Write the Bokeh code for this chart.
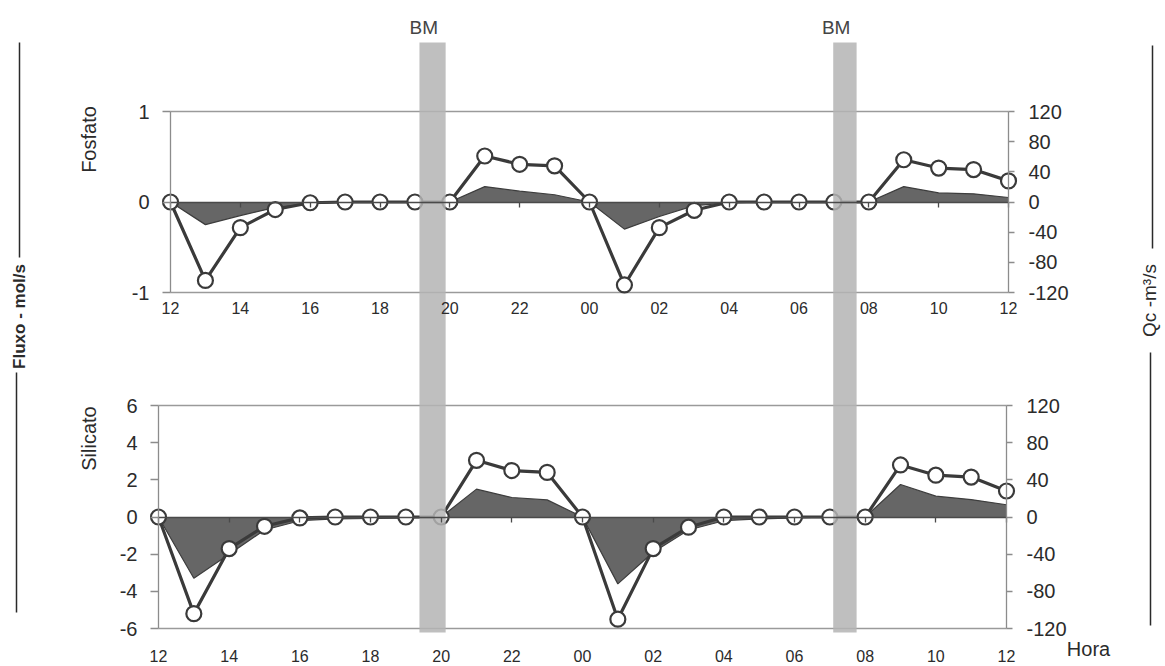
import math
from bokeh.plotting import figure
from bokeh.models import Range1d, LinearAxis, FixedTicker
from bokeh.core.properties import value
from bokeh.embed import file_html
from bokeh.resources import INLINE

W, H = 1165, 666
FONT = "Liberation Sans"
INK = "#2b2b2b"

# ---- data -------------------------------------------------------------
hours = ["12", "13", "14", "15", "16", "17", "18", "19", "20", "21", "22", "23",
         "00", "01", "02", "03", "04", "05", "06", "07", "08", "09", "10", "11", "12"]
idx = list(range(len(hours)))

# Qc (m3/s), same series in both panels
qc = [0, -104, -34, -10, -1, 0, 0, 0, 0, 61, 50, 48,
      0, -110, -34, -11, 0, 0, 0, 0, 0, 56, 45, 43, 28]

# flux (mol/s)
fosfato = [0, -0.25, -0.15, -0.06, -0.02, 0, 0, 0, 0, 0.17, 0.12, 0.08,
           0, -0.30, -0.16, -0.04, -0.01, 0, 0, 0, 0, 0.17, 0.10, 0.09, 0.05]
silicato = [0, -3.3, -2.0, -0.7, -0.2, -0.1, -0.08, -0.05, 0, 1.5, 1.05, 0.92,
            0, -3.6, -1.9, -0.7, -0.2, -0.1, -0.05, 0, 0, 1.75, 1.12, 0.94, 0.66]

fos_ticks = [-1, 0, 1]
sil_ticks = [-6, -4, -2, 0, 2, 4, 6]
qc_ticks = [-120, -80, -40, 0, 40, 80, 120]
x_ticks = list(range(0, 25, 2))

# low-water (BM) periods, in hour index of the upper panel
bm_start = [7.13, 18.98]
bm_end = [7.88, 19.65]


# ---- helpers ------------------------------------------------------------
def xr(v_a, px_a, v_b, px_b):
    s = (px_b - px_a) / (v_b - v_a)
    return Range1d(start=v_a - px_a / s, end=v_a + (W - px_a) / s)


def yr(v_a, px_a, v_b, px_b):
    s = (px_b - px_a) / (v_b - v_a)
    return Range1d(start=v_a + (H - px_a) / s, end=v_a - px_a / s)


p = figure(width=W, height=H, x_range=Range1d(0, W), y_range=Range1d(H, 0),
           x_axis_type=None, y_axis_type=None, toolbar_location=None,
           output_backend="svg", min_border=0, outline_line_color=None,
           background_fill_color="white", border_fill_color="white")

p.extra_x_ranges = {"top": xr(0, 170, 24, 1008), "bot": xr(0, 158, 24, 1006)}
p.extra_y_ranges = {
    "fos": yr(1, 111, -1, 292),
    "qc1": yr(120, 111, -120, 292),
    "sil": yr(6, 405, -6, 628),
    "qc2": yr(120, 405, -120, 628),
}


def style_axis(ax, size, tick_out, standoff, line_color="#8c8c8c"):
    ax.axis_line_color = line_color
    ax.axis_line_width = 1.3
    ax.major_tick_line_color = line_color
    ax.major_tick_line_width = 1.3
    ax.major_tick_out = tick_out
    ax.major_tick_in = 0
    ax.minor_tick_out = 0
    ax.minor_tick_in = 0
    ax.major_label_standoff = standoff
    ax.major_label_text_font = FONT
    ax.major_label_text_font_size = size
    ax.major_label_text_color = INK


def plain(ticks):
    # tick text with an ordinary hyphen for negatives
    return {t: str(t) for t in ticks}


def panel(xname, fname, qname, flux, ticks, x_standoff):
    lo, hi = min(ticks), max(ticks)
    kw = dict(x_range_name=xname, y_range_name=fname)
    # plot-area top and bottom border
    p.segment(x0=[0, 0], x1=[24, 24], y0=[lo, hi], y1=[lo, hi],
              line_color="#9a9a9a", line_width=1.4, **kw)
    # flux area
    p.varea(x=idx, y1=0, y2=flux, fill_color="#666666", **kw)
    p.line(idx, flux, line_color="#3d3d3d", line_width=1.2, **kw)

    left = LinearAxis(x_range_name=xname, y_range_name=fname, fixed_location=0,
                      bounds=(lo, hi), ticker=FixedTicker(ticks=ticks),
                      major_label_overrides=plain(ticks))
    style_axis(left, "20px", 8, 13)
    p.add_layout(left, "left")

    bottom = LinearAxis(x_range_name=xname, y_range_name=fname, fixed_location=0,
                        bounds=(0, 24), ticker=FixedTicker(ticks=x_ticks),
                        major_label_overrides={i: hours[i] for i in x_ticks})
    style_axis(bottom, "16px", 5, x_standoff, line_color="#4a4a4a")
    p.add_layout(bottom, "below")

    right = LinearAxis(x_range_name=xname, y_range_name=qname, fixed_location=24,
                       bounds=(-120, 120), ticker=FixedTicker(ticks=qc_ticks),
                       major_label_overrides=plain(qc_ticks))
    style_axis(right, "20px", 6, 14)
    p.add_layout(right, "right")

    # Qc line with open circles
    qkw = dict(x_range_name=xname, y_range_name=qname)
    p.line(idx, qc, line_color="#3a3a3a", line_width=3.2, **qkw)
    p.scatter(idx, qc, size=15, fill_color="white", line_color="#3a3a3a",
              line_width=2.2, **qkw)


panel("top", "fos", "qc1", fosfato, fos_ticks, 95)
panel("bot", "sil", "qc2", silicato, sil_ticks, 128)

# BM bands across both panels (vertical extent in page pixels)
p.quad(left=bm_start, right=bm_end, top=42, bottom=632, x_range_name="top",
       fill_color="#b4b4b4", fill_alpha=0.85, line_color=None)
p.text(x=[(a + b) / 2 - 0.25 for a, b in zip(bm_start, bm_end)], y=27,
       text=["BM", "BM"], x_range_name="top", text_font=value(FONT),
       text_font_size="19px", text_color="#444444", text_align="center",
       text_baseline="middle")

# panel titles
txt = dict(text_font=value(FONT), text_color=INK, text_align="center",
           text_baseline="middle")
p.text(x=[88, 88], y=[139, 438], text=["Fosfato", "Silicato"], angle=math.pi / 2,
       text_font_size="20px", **txt)
p.text(x=[1088], y=[648], text=["Hora"], text_font_size="20px", **txt)

# outer axis titles with rules
p.text(x=[19], y=[316], text=["Fluxo - mol/s"], angle=math.pi / 2,
       text_font_size="17px", text_font_style="bold", **txt)
p.text(x=[1149], y=[300], text=["Qc -m³/s"], angle=math.pi / 2,
       text_font_size="19px", **txt)
p.segment(x0=[19, 16, 1152, 1150], x1=[19, 16, 1152, 1150],
          y0=[42, 372, 45, 352], y1=[257, 612, 248, 625],
          line_color="#2a2a2a", line_width=1.5)

open("out.html", "w").write(file_html(p, INLINE))
